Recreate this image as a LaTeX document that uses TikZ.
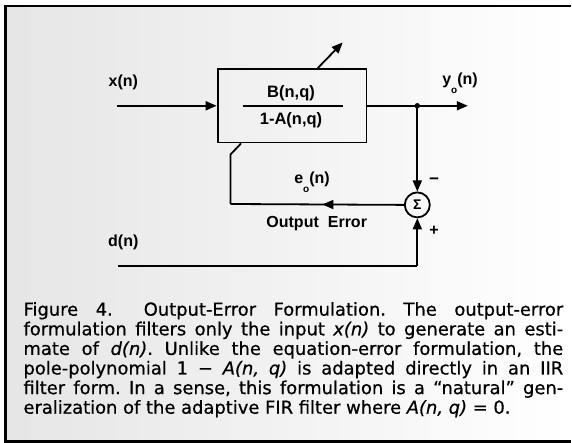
\documentclass[tikz,border=0pt]{standalone}
\usepackage{fontspec}
\setmainfont{Liberation Sans}
\newfontfamily\capfont{DejaVu Sans}[FakeBold=0.6]
\usetikzlibrary{
  arrows.meta,
  positioning,
  calc,
  decorations.markings
}
\newlength{\capw}
\setlength{\capw}{539.7pt}
\newcommand{\subo}{\raisebox{-9pt}{\fontsize{10}{10}\selectfont o}}
\newcommand{\capline}[1]{{\spaceskip=0pt\xspaceskip=0pt\makebox[\capw][s]{#1}}}
\tikzset{
  filterbox/.style={
    rectangle, draw, line width=1.8pt,
    minimum width=148.8pt, minimum height=73.5pt, inner sep=0pt
  },
  sumnode/.style={
    circle, draw, line width=1.8pt,
    minimum size=25pt, inner sep=0pt,
    font=\fontsize{14}{14}\selectfont\bfseries
  },
  lbl/.style={inner sep=0pt, font=\fontsize{16}{16}\selectfont\bfseries},
  fraclbl/.style={inner sep=0pt, font=\fontsize{16.5}{16.5}\selectfont\bfseries},
  junction/.style={circle, fill, inner sep=0pt, minimum size=5.5pt},
  wire/.style={line width=1.8pt},
  arrow/.style={-{Triangle[length=11pt,width=9pt]}, line width=1.8pt},
  midarrow/.style={
    postaction={decorate},
    decoration={markings,
      mark=at position #1 with {\arrow{Triangle[length=11pt,width=9pt]}}}
  },
  frame/.style={line width=2.2pt},
  captext/.style={
    inner sep=0pt, anchor=base west,
    font=\capfont\fontsize{17.9}{19.6}\selectfont\frenchspacing
  }
}

\begin{document}
\begin{tikzpicture}[x=1pt, y=1pt]

\useasboundingbox (0,0) rectangle (572,443);

% ── Background and frame ────────────────────────────────────────────────────
\shade[left color=black!10, right color=white] (5.5,1.5) rectangle (571,437);
\draw[frame] (571,437) -- (5.5,437) -- (5.5,1.5) -- (571,1.5);

% ── Adaptive filter ─────────────────────────────────────────────────────────
\node[filterbox] (filter) at (292,337.2) {};
\node[fraclbl, anchor=base] (num) at (291,345.7) {B(n,q)};
\node[fraclbl, anchor=base] (den) at (291,318) {1-A(n,q)};
\draw[wire] ([xshift=-49.3pt]filter.center) -- ([xshift=50.7pt]filter.center);

% adaptation arrow
\coordinate (adapt0) at ([xshift=25.7pt]filter.north);
\coordinate (adapt1) at ([xshift=50.7pt,yshift=25.7pt]filter.north);
\draw[arrow] (adapt0) -- (adapt1);

% ── Input and output ────────────────────────────────────────────────────────
\coordinate[left=100pt of filter.west] (xin);
\coordinate[right=50pt of filter.east] (split);
\coordinate[right=100.5pt of filter.east] (yout);
\node[lbl, anchor=base] (xlbl) at (123.3,356.3) {x(n)};
\node[lbl, anchor=base] (ylbl) at (460,358) {y\subo(n)};

\draw[arrow] (xin) -- (filter.west);
\draw[arrow] (filter.east) -- (yout);
\node[junction] (dot) at (split) {};

% ── Error summation ─────────────────────────────────────────────────────────
\node[sumnode, below=85.7pt of split] (sum) {Σ};
\node[lbl, font=\fontsize{17}{17}\selectfont\bfseries] (minus) at (434,262) {−};
\node[lbl] (plus) at (434,212) {+};

\draw[arrow] (split) -- (sum.north);

\coordinate (din) at (117.7,177);
\coordinate (dcorner) at (sum |- din);
\node[lbl, anchor=base] (dlbl) at (123.3,196.3) {d(n)};
\draw[wire] (din) -- (dcorner);
\draw[arrow] (dcorner) -- (sum.south);

% ── Output error fed back ───────────────────────────────────────────────────
\coordinate (fbc) at (230.5,239);
\coordinate (fbk) at (230.5,288.5);
\coordinate (fbend) at ([xshift=24.3pt]filter.south west);
\draw[wire, midarrow=0.47] (sum.west) -- (fbc);
\draw[wire] (fbc) -- (fbk) -- (fbend);
\node[lbl, anchor=base] (elbl) at (312,259.7) {e\subo(n)};
\node[lbl, anchor=base] (errlbl) at (316.7,215.7) {Output\hspace{9pt}Error};

% ── Caption ─────────────────────────────────────────────────────────────────
\node[captext] (cap1) at (23.3,127.3)
  {\capline{Figure 4.\hspace{31pt}Output-Error Formulation. The output-error}};
\node[captext] (cap2) at (23.3,107.7)
  {\capline{formulation filters only the input \textit{x(n)} to generate an esti-}};
\node[captext] (cap3) at (23.3,88.1)
  {\capline{mate of \textit{d(n)}. Unlike the equation-error formulation, the}};
\node[captext] (cap4) at (23.3,68.5)
  {\capline{pole-polynomial 1 − \textit{A(n, q)} is adapted directly in an IIR}};
\node[captext] (cap5) at (23.3,48.9)
  {\capline{filter form. In a sense, this formulation is a “natural” gen-}};
\node[captext] (cap6) at (23.3,29.3)
  {eralization of the adaptive FIR filter where \textit{A(n, q)} = 0.};

\end{tikzpicture}
\end{document}
